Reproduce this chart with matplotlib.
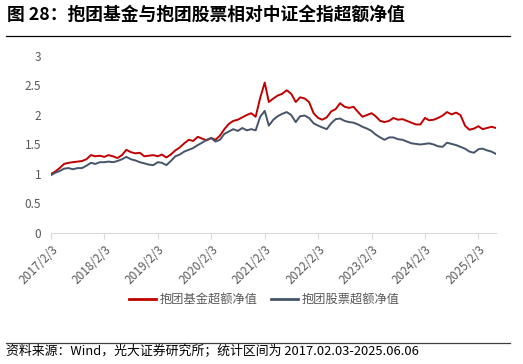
import pandas as pd
import matplotlib.pyplot as plt
from matplotlib.lines import Line2D

plt.rcParams['font.family'] = ['Noto Sans CJK SC', 'DejaVu Sans']

# monthly readings, 2017-02 .. 2025-06
dates = pd.date_range("2017-02-03", periods=101, freq=pd.DateOffset(months=1))

fund_excess = [
    1.00, 1.04, 1.10, 1.17, 1.19, 1.20, 1.21, 1.22, 1.25, 1.32, 1.30, 1.31,
    1.29, 1.32, 1.30, 1.27, 1.32, 1.41, 1.37, 1.35, 1.36, 1.30, 1.31, 1.32,
    1.30, 1.33, 1.28, 1.33, 1.40, 1.45, 1.52, 1.58, 1.56, 1.63, 1.60, 1.57,
    1.61, 1.58, 1.65, 1.76, 1.85, 1.90, 1.92, 1.96, 2.00, 2.03, 1.97, 2.29,
    2.55, 2.22, 2.28, 2.33, 2.36, 2.42, 2.36, 2.22, 2.30, 2.28, 2.22, 2.03,
    1.95, 1.92, 1.96, 2.06, 2.10, 2.20, 2.14, 2.12, 2.14, 2.05, 1.97, 2.00,
    2.03, 1.98, 1.90, 1.88, 1.90, 1.95, 1.92, 1.93, 1.90, 1.87, 1.84, 1.84,
    1.95, 1.91, 1.92, 1.95, 1.99, 2.05, 2.01, 2.04, 2.00, 1.82, 1.75, 1.77,
    1.81, 1.76, 1.78, 1.80, 1.78,
]

stock_excess = [
    0.98, 1.02, 1.05, 1.09, 1.10, 1.08, 1.10, 1.10, 1.14, 1.19, 1.17, 1.20,
    1.20, 1.21, 1.20, 1.22, 1.25, 1.29, 1.25, 1.23, 1.20, 1.18, 1.16, 1.15,
    1.20, 1.19, 1.15, 1.22, 1.30, 1.33, 1.38, 1.41, 1.44, 1.49, 1.53, 1.58,
    1.61, 1.55, 1.58, 1.68, 1.72, 1.76, 1.73, 1.78, 1.74, 1.76, 1.74, 1.97,
    2.07, 1.82, 1.92, 1.98, 2.02, 2.05, 2.00, 1.88, 1.98, 1.99, 1.95, 1.86,
    1.82, 1.79, 1.76, 1.86, 1.93, 1.94, 1.90, 1.88, 1.87, 1.84, 1.80, 1.77,
    1.73, 1.67, 1.62, 1.58, 1.62, 1.62, 1.59, 1.58, 1.55, 1.52, 1.51, 1.50,
    1.51, 1.52, 1.50, 1.47, 1.46, 1.53, 1.51, 1.49, 1.46, 1.43, 1.38, 1.36,
    1.42, 1.43, 1.40, 1.38, 1.34,
]

tick_dates = pd.date_range("2017-02-03", periods=9, freq=pd.DateOffset(years=1))
tick_labels = [f"{d.year}/2/3" for d in tick_dates]

red = "#C00000"
navy = "#44546A"
grey = "#595959"

fig = plt.figure(figsize=(5.23, 3.64), dpi=100)
ax = fig.add_axes([51 / 523, 1 - 233 / 364, 445 / 523, 177 / 364])

ax.plot(dates, fund_excess, color=red, lw=1.4)
ax.plot(dates, stock_excess, color=navy, lw=1.4)

ax.set_xlim(dates[0], dates[-1])
ax.set_ylim(0, 3)
ax.set_yticks([0, 0.5, 1, 1.5, 2, 2.5, 3])
ax.set_yticklabels(["0", "0.5", "1", "1.5", "2", "2.5", "3"])
ax.set_xticks(tick_dates)
ax.set_xticklabels(tick_labels, rotation=45, ha="right", rotation_mode="anchor")

for s in ["top", "right", "left"]:
    ax.spines[s].set_visible(False)
ax.spines["bottom"].set_color("#D9D9D9")
ax.tick_params(axis="y", length=0, pad=7, labelsize=8.5, labelcolor=grey)
ax.tick_params(axis="x", length=4, color="#D9D9D9", pad=3, labelsize=8.5, labelcolor=grey)

handles = [Line2D([], [], color=red, lw=2), Line2D([], [], color=navy, lw=2)]
fig.legend(handles, ["抱团基金超额净值", "抱团股票超额净值"], loc="center",
           bbox_to_anchor=(264 / 523, 1 - 300 / 364), ncol=2, frameon=False,
           fontsize=8.8, labelcolor=grey, handlelength=2.2, handletextpad=0.3,
           columnspacing=1.1)

fig.text(7 / 523, 1 - 15 / 364, "图 28：抱团基金与抱团股票相对中证全指超额净值",
         fontsize=12.8, fontweight="bold", va="center", ha="left")
fig.add_artist(Line2D([6 / 523, 510 / 523], [1 - 36 / 364] * 2, color="black", lw=0.9))
fig.add_artist(Line2D([6 / 523, 510 / 523], [1 - 343 / 364] * 2, color="#404040", lw=0.9))
fig.text(6 / 523, 1 - 352 / 364, "资料来源：Wind，光大证券研究所；统计区间为 2017.02.03-2025.06.06",
         fontsize=9.3, va="center", ha="left")

fig.savefig("out.png", dpi=100)
